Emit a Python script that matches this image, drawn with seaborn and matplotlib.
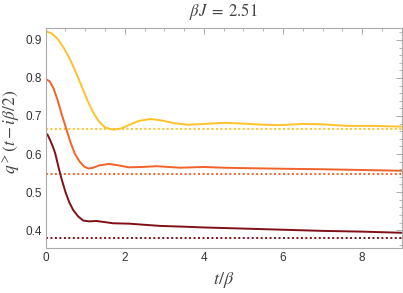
import matplotlib
matplotlib.use("Agg")
import matplotlib.pyplot as plt
from matplotlib.ticker import MultipleLocator, FormatStrFormatter
import pandas as pd
import seaborn as sns

# curves (t/beta, q value)
t_yellow = [0, 0.15, 0.3, 0.45, 0.6, 0.75, 0.9, 1.05, 1.2, 1.35, 1.5, 1.7, 1.9,
            2.1, 2.35, 2.65, 2.95, 3.25, 3.6, 4.0, 4.5, 5.0, 5.5, 5.9, 6.5,
            7.0, 7.6, 8.3, 9.0]
q_yellow = [0.923, 0.917, 0.903, 0.880, 0.852, 0.818, 0.780, 0.742, 0.709,
            0.685, 0.670, 0.664, 0.667, 0.676, 0.687, 0.692, 0.688, 0.681,
            0.677, 0.679, 0.682, 0.680, 0.677, 0.676, 0.679, 0.678, 0.674,
            0.674, 0.672]

t_orange = [0, 0.1, 0.2, 0.3, 0.4, 0.52, 0.63, 0.74, 0.86, 0.97, 1.08, 1.2,
            1.35, 1.6, 1.85, 2.1, 2.45, 2.8, 3.1, 3.4, 4.0, 4.5, 5.0, 5.6,
            6.2, 7.0, 8.0, 9.0]
q_orange = [0.797, 0.791, 0.772, 0.742, 0.706, 0.666, 0.630, 0.600, 0.580,
            0.567, 0.562, 0.564, 0.570, 0.574, 0.570, 0.565, 0.566, 0.568,
            0.566, 0.564, 0.566, 0.564, 0.563, 0.562, 0.561, 0.560, 0.558,
            0.556]

t_red = [0, 0.05, 0.11, 0.18, 0.24, 0.32, 0.4, 0.5, 0.6, 0.7, 0.82, 0.95,
         1.1, 1.28, 1.5, 1.7, 2.1, 2.5, 2.9, 3.5, 4.0, 5.0, 6.0, 7.0, 8.0, 9.0]
q_red = [0.655, 0.650, 0.637, 0.620, 0.602, 0.567, 0.535, 0.500, 0.472,
         0.452, 0.436, 0.425, 0.423, 0.424, 0.421, 0.418, 0.417, 0.414,
         0.411, 0.409, 0.407, 0.404, 0.401, 0.398, 0.396, 0.393]

# late-time plateau values (dotted lines)
plateaus = {"yellow": 0.666, "orange": 0.547, "red": 0.379}
colors = {"yellow": "#ffc22b", "orange": "#f2622a", "red": "#7e1016"}

df = pd.concat([
    pd.DataFrame({"t": t_yellow, "q": q_yellow, "series": "yellow"}),
    pd.DataFrame({"t": t_orange, "q": q_orange, "series": "orange"}),
    pd.DataFrame({"t": t_red, "q": q_red, "series": "red"}),
])

sns.set_theme(style="white")
plt.rcParams["font.family"] = ["Liberation Sans", "DejaVu Sans"]
plt.rcParams["mathtext.fontset"] = "stix"

fig = plt.figure(figsize=(4.03, 2.93), dpi=100)
ax = fig.add_axes([0.1134, 0.1536, 0.8834, 0.7505])

for name, level in plateaus.items():
    ax.axhline(level, color=colors[name], lw=1.4, ls=(0, (1, 1.3)), zorder=1)

sns.lineplot(data=df, x="t", y="q", hue="series", palette=colors,
             linewidth=1.4, legend=False, ax=ax, zorder=2)

ax.set_xlim(0, 9)
ax.set_ylim(0.353, 0.931)
ax.xaxis.set_major_locator(MultipleLocator(2))
ax.xaxis.set_minor_locator(MultipleLocator(0.5))
ax.yaxis.set_major_locator(MultipleLocator(0.1))
ax.yaxis.set_minor_locator(MultipleLocator(0.02))
ax.yaxis.set_major_formatter(FormatStrFormatter("%.1f"))

for s in ax.spines.values():
    s.set_color("#aaaaaa")
    s.set_linewidth(0.8)
ax.tick_params(which="both", direction="in", top=True, right=True,
               color="#aaaaaa", labelsize=8.5, labelcolor="#333333", pad=3)
ax.tick_params(which="major", length=4, width=0.7)
ax.tick_params(which="minor", length=2, width=0.6)

ax.set_xlabel(r"$t/\beta$", fontsize=13, color="#444444", labelpad=4)
ax.set_ylabel(r"$q^{>}(t-i\beta/2)$", fontsize=12.5, color="#444444")
ax.yaxis.set_label_coords(-0.066, 0.53)
ax.set_title(r"$\beta J\;=\;2.51$", fontsize=12, color="#444444", pad=9)

fig.savefig("out.png", dpi=100)
